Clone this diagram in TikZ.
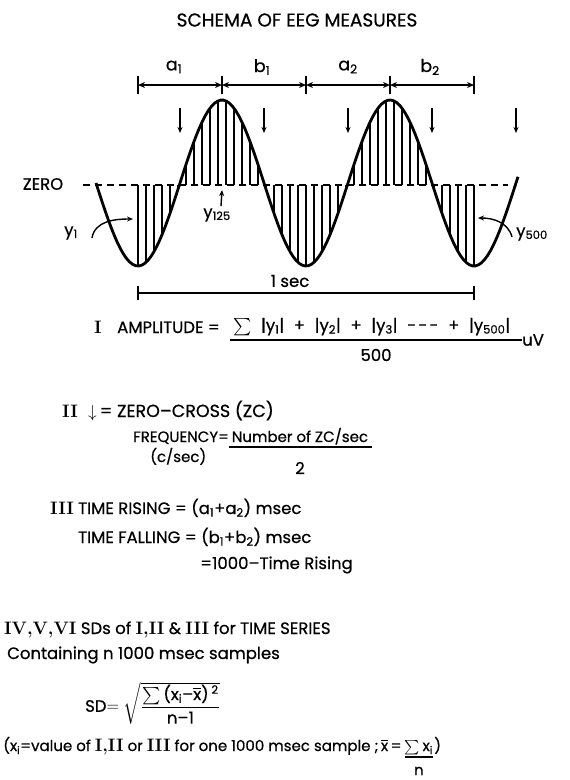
\documentclass[tikz,border=0pt]{standalone}
\usepackage{amsmath}
\usepackage{fontspec}
\setsansfont{Poppins}[FakeBold=0.6]
\usetikzlibrary{arrows.meta}
\newcommand{\romn}[1]{{\rmfamily\bfseries\fontsize{18}{20}\selectfont #1}}
\newcommand{\xbar}{\ensuremath{\overline{\text{x}}}}

\begin{document}
\begin{tikzpicture}[
    x=1pt, y=-1pt,
    every node/.style={font=\sffamily\fontsize{16.5}{19}\selectfont, inner sep=0pt},
    declare function={eeg(\t)=183-83*cos((\t-222)/168*360);},
    big/.style={font=\sffamily\fontsize{18.5}{21}\selectfont},
    mid/.style={font=\sffamily\fontsize{17.5}{20}\selectfont},
    small/.style={font=\sffamily\fontsize{15}{18}\selectfont},
    wave/.style={line width=2.8pt},
    hatch/.style={line width=1.3pt},
    zeroline/.style={line width=1.5pt, dash pattern=on 7pt off 5pt},
    span/.style={<->, >={Stealth[length=7pt,width=6pt]}, line width=1.6pt},
    zc/.style={->, >={Stealth[length=6pt,width=5pt]}, line width=1.4pt},
    bar/.style={line width=1.3pt}
]
\useasboundingbox (0,0) rectangle (570,780);

% title
\node[big] (title) at (297,20) {SCHEMA OF EEG MEASURES};

% half periods on top
\foreach \n/\x in {0/138,1/222,2/306,3/390,4/474} {
  \coordinate (t\n) at (\x,85);
  \draw[line width=1.6pt] (t\n) ++(0,-9) -- ++(0,18);
}
\foreach \a/\b in {0/1,1/2,2/3,3/4}
  \draw[span] (t\a) -- (t\b);
\node[mid] (a1) at (174,67) {a\textsubscript{1}};
\node[mid] (b1) at (262,67) {b\textsubscript{1}};
\node[mid] (a2) at (348,67) {a\textsubscript{2}};
\node[mid] (b2) at (430,67) {b\textsubscript{2}};

% zero crossings
\foreach \i/\x in {1/180,2/264,3/348,4/432,5/516} {
  \coordinate (zc\i) at (\x,108);
  \draw[zc] (zc\i) -- ++(0,25);
}

% zero line, samples and wave
\coordinate (z0) at (83,185);
\coordinate (z1) at (508,185);
\node (zero) at (43,184) {ZERO};
\draw[zeroline] (z0) -- (z1);
\foreach \x in {138,146,...,474}
  \draw[hatch] (\x,185) -- (\x,{eeg(\x)});
\draw[wave] plot[domain=96:518, samples=140] (\x,{eeg(\x)});

% sample labels
\node (y1) at (71,233) {y\textsubscript{1}};
\coordinate (y1to) at (133,219);
\draw[zc] (y1.east) ++(14,5) to[out=80,in=180] (y1to);
\node (y125) at (217,215) {y\textsubscript{125}};
\coordinate (p125) at (222,190);
\draw[zc] ([xshift=4pt,yshift=2pt]y125.north) -- (p125);
\node (y500) at (532,234) {y\textsubscript{500}};
\coordinate (y500to) at (478,218);
\draw[zc] (y500.west) ++(-4,3) to[out=105,in=0] (y500to);

% one second
\coordinate (s0) at (138,293);
\coordinate (s1) at (474,293);
\draw[line width=1.8pt] (s0) -- (s1);
\draw[line width=1.8pt] (s0) ++(0,-7) -- ++(0,14);
\draw[line width=1.8pt] (s1) ++(0,-7) -- ++(0,14);
\node (sec) at (290,281) {1 sec};

% I
\node[anchor=base west] (num1) at (94,333) {\romn{I}};
\node[anchor=base west] (amp) at (117,333) {AMPLITUDE =};
\node[anchor=base west] (ampnum) at (233,331)
  {\makebox[277pt][s]{$\sum$ |y\textsubscript{1}| + |y\textsubscript{2}| + |y\textsubscript{3}| -\kern2pt-\kern2pt- + |y\textsubscript{500}|}};
\coordinate (fb0) at (230,340);
\coordinate (fb1) at (522,340);
\node[anchor=west] (uv) at (fb1) {uV};
\draw[bar] (fb0) -- (uv.west);
\node (n500) at (376,355) {500};

% II
\node[anchor=base west] (num2) at (62,417) {\romn{II}};
\node[mid, anchor=base west] (zcdef) at (88,417) {$\downarrow$\,= ZERO--CROSS (ZC)};
\node[small, anchor=base west] (freq) at (133,442) {FREQUENCY=};
\node[small, anchor=base west] (freqnum) at (freq.base east) {\,Number of ZC/sec};
\draw[bar] ([yshift=-5pt]freqnum.base west) -- ([shift={(4pt,-5pt)}]freqnum.base east);
\node[small, anchor=base west] (cps) at (150,462) {(c/sec)};
\node (two) at (300,468) {2};

% III
\node[anchor=base west] (num3) at (50,514) {\romn{III}};
\node[anchor=base west] (rise) at (78,514) {TIME RISING = (a\textsubscript{1}+a\textsubscript{2}) msec};
\node[anchor=base west] (fall) at (78,543) {TIME FALLING = (b\textsubscript{1}+b\textsubscript{2}) msec};
\node[anchor=base west] (fall2) at (200,569) {=1000--Time Rising};

% IV, V, VI
\node[anchor=base west] (sds) at (4,634) {\romn{IV,V,VI} SDs of \romn{I,II} \& \romn{III} for TIME SERIES};
\node[anchor=base west] (cont) at (7,659) {Containing n 1000 msec samples};
\node[anchor=west] (sdf) at (85,703)
  {SD$=\sqrt{\dfrac{\sum\text{(x\textsubscript{i}--\xbar)\,\textsuperscript{2}}}{\text{n--1}}}$};
\node[small, anchor=base west] (xdef) at (3,751)
  {(x\textsubscript{i}=value of \romn{I,II} or \romn{III} for one 1000 msec sample ;\,\xbar\,=};
\node[small, anchor=base west] (xsum) at ([xshift=3pt]xdef.base east) {$\sum$\,x\textsubscript{i}};
\node[small, anchor=base west] (xpar) at ([xshift=1pt]xsum.base east) {)};
\draw[bar] ([yshift=-6pt]xsum.base west) -- ([yshift=-6pt]xsum.base east);
\node[small] (nn) at (xsum.center |- 0,771) {n};
\end{tikzpicture}
\end{document}
